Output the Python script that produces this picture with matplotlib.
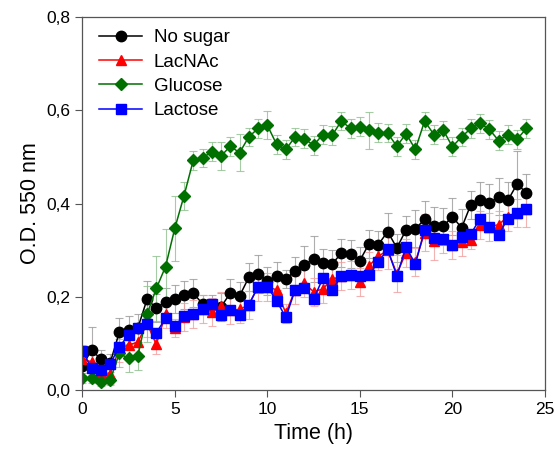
import matplotlib
matplotlib.use("Agg")
import matplotlib.pyplot as plt
from matplotlib.ticker import FuncFormatter

plt.rcParams['font.family'] = ['Liberation Sans', 'DejaVu Sans']

# time points (h), every half hour
time_h = [i * 0.5 for i in range(49)]

no_sugar = [0.052, 0.086, 0.067, 0.058, 0.124, 0.129, 0.133, 0.195, 0.176, 0.190,
            0.195, 0.204, 0.208, 0.185, 0.183, 0.179, 0.208, 0.202, 0.242, 0.249,
            0.234, 0.244, 0.238, 0.256, 0.269, 0.281, 0.272, 0.270, 0.294, 0.292,
            0.278, 0.314, 0.312, 0.340, 0.305, 0.344, 0.346, 0.366, 0.353, 0.351,
            0.372, 0.348, 0.398, 0.407, 0.401, 0.415, 0.407, 0.442, 0.423]
no_sugar_err = [0.02, 0.05, 0.02, 0.02, 0.03, 0.03, 0.03, 0.04, 0.03, 0.03,
                0.03, 0.03, 0.03, 0.02, 0.02, 0.03, 0.03, 0.03, 0.03, 0.04,
                0.03, 0.03, 0.02, 0.03, 0.04, 0.05, 0.03, 0.03, 0.03, 0.03,
                0.03, 0.03, 0.03, 0.04, 0.03, 0.03, 0.04, 0.04, 0.04, 0.04,
                0.04, 0.04, 0.03, 0.04, 0.04, 0.04, 0.04, 0.07, 0.04]

lacnac = [0.066, 0.061, 0.037, 0.034, 0.090, 0.097, 0.103, 0.143, 0.098, 0.163,
          0.133, 0.156, 0.163, 0.175, 0.168, 0.180, 0.172, 0.173, 0.183, 0.222,
          0.222, 0.215, 0.165, 0.215, 0.229, 0.211, 0.217, 0.238, 0.244, 0.246,
          0.231, 0.267, 0.287, 0.300, 0.250, 0.295, 0.275, 0.338, 0.320, 0.325,
          0.312, 0.318, 0.323, 0.355, 0.350, 0.355, 0.372, 0.380, 0.389]
lacnac_err = [0.03, 0.02, 0.02, 0.02, 0.03, 0.03, 0.03, 0.03, 0.02, 0.03,
              0.02, 0.03, 0.03, 0.03, 0.03, 0.03, 0.03, 0.03, 0.03, 0.03,
              0.03, 0.03, 0.02, 0.03, 0.03, 0.03, 0.03, 0.03, 0.03, 0.03,
              0.03, 0.03, 0.03, 0.04, 0.04, 0.03, 0.03, 0.04, 0.04, 0.03,
              0.03, 0.03, 0.02, 0.03, 0.03, 0.03, 0.03, 0.03, 0.04]

glucose = [0.026, 0.026, 0.018, 0.021, 0.079, 0.068, 0.073, 0.163, 0.218, 0.265,
           0.347, 0.417, 0.493, 0.498, 0.511, 0.502, 0.523, 0.509, 0.543, 0.561,
           0.568, 0.527, 0.516, 0.543, 0.539, 0.525, 0.548, 0.546, 0.577, 0.561,
           0.565, 0.557, 0.552, 0.551, 0.523, 0.550, 0.516, 0.577, 0.548, 0.558,
           0.522, 0.543, 0.561, 0.572, 0.559, 0.535, 0.548, 0.538, 0.561]
glucose_err = [0.01, 0.01, 0.01, 0.01, 0.03, 0.03, 0.03, 0.06, 0.07, 0.08,
               0.07, 0.03, 0.02, 0.02, 0.02, 0.03, 0.02, 0.04, 0.02, 0.02,
               0.03, 0.02, 0.02, 0.02, 0.02, 0.02, 0.02, 0.02, 0.02, 0.02,
               0.02, 0.04, 0.02, 0.02, 0.02, 0.02, 0.02, 0.02, 0.02, 0.02,
               0.02, 0.02, 0.02, 0.02, 0.02, 0.02, 0.02, 0.02, 0.02]

lactose = [0.085, 0.047, 0.043, 0.056, 0.093, 0.118, 0.133, 0.141, 0.123, 0.154,
           0.138, 0.159, 0.163, 0.174, 0.185, 0.161, 0.172, 0.161, 0.183, 0.222,
           0.222, 0.192, 0.156, 0.215, 0.219, 0.195, 0.240, 0.215, 0.244, 0.246,
           0.244, 0.247, 0.275, 0.302, 0.245, 0.307, 0.270, 0.344, 0.326, 0.325,
           0.312, 0.328, 0.335, 0.368, 0.349, 0.333, 0.368, 0.380, 0.389]
lactose_err = [0.01] * 49

fig, ax = plt.subplots(figsize=(5.56, 4.58), dpi=100)
fig.subplots_adjust(left=0.148, right=0.98, top=0.963, bottom=0.148)

series = [
    ("No sugar", no_sugar, no_sugar_err, "black", "#9a9a9a", "o", 7.5),
    ("LacNAc", lacnac, lacnac_err, "red", "#f0a0a0", "^", 7),
    ("Glucose", glucose, glucose_err, "#007000", "#90c090", "D", 6.5),
    ("Lactose", lactose, lactose_err, "blue", "#a0a0f0", "s", 6.5),
]

for label, vals, err, col, ecol, mk, ms in series:
    ax.errorbar(time_h, vals, yerr=err, fmt="none", ecolor=ecol,
                elinewidth=0.8, capsize=3, capthick=0.8, alpha=0.8)
for label, vals, err, col, ecol, mk, ms in series:
    ax.plot(time_h, vals, color=col, marker=mk, markersize=ms, linewidth=1.1,
            markeredgecolor=col, label=label)

ax.set_xlim(0, 25)
ax.set_ylim(0, 0.8)
ax.set_xticks([0, 5, 10, 15, 20, 25])
ax.set_yticks([0, 0.2, 0.4, 0.6, 0.8])
ax.yaxis.set_major_formatter(FuncFormatter(lambda v, p: f"{v:.1f}".replace(".", ",")))
ax.tick_params(labelsize=12.5, direction="out", length=5, width=0.8, color="#555555")
for sp in ax.spines.values():
    sp.set_color("#555555")
    sp.set_linewidth(0.9)

ax.set_xlabel("Time (h)", fontsize=15.5)
ax.set_ylabel("O.D. 550 nm", fontsize=15.5)

ax.legend(loc="upper left", frameon=False, fontsize=13.5, handlelength=2.3,
          labelspacing=0.38, borderaxespad=0.5, handletextpad=0.6,
          bbox_to_anchor=(0.0, 1.012))

fig.savefig("out.png", dpi=100)
